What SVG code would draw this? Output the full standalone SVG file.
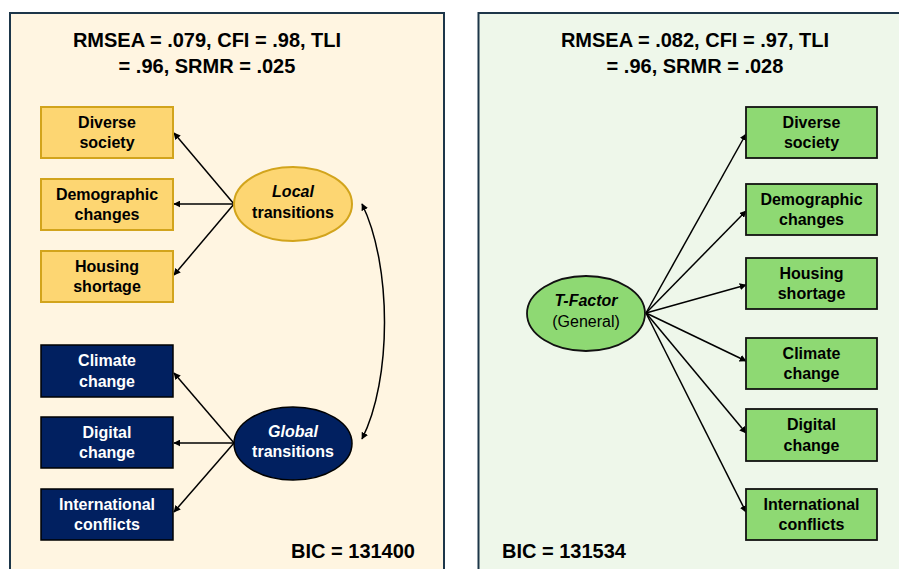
<svg xmlns="http://www.w3.org/2000/svg" width="899" height="569" viewBox="0 0 899 569">
<defs>
<marker id="ah" viewBox="0 0 10 10" refX="9" refY="5" markerWidth="7" markerHeight="7" markerUnits="userSpaceOnUse" orient="auto-start-reverse">
<path d="M0,0 L10,5 L0,10 Z" fill="#000"/>
</marker>
<style>
text{font-family:"Liberation Sans",Arial,sans-serif;font-weight:bold;text-anchor:middle;}
.fit{font-size:20px;fill:#000;}
.lbl{font-size:16px;}
.gold{fill:#fdd672;stroke:#d2a41c;stroke-width:2;}
.navy{fill:#012060;stroke:#000;stroke-width:1.5;}
.green{fill:#8ed973;stroke:#111;stroke-width:1.8;}
.dk{fill:#000;}
.wh{fill:#fff;}
.con line,.con path{stroke:#000;stroke-width:1.5;fill:none;marker-end:url(#ah);}
</style>
</defs>
<rect width="899" height="569" fill="#fff"/>
<rect id="panel-left" x="10" y="13" width="434" height="570" fill="#fff5e1" stroke="#1d3649" stroke-width="2"/>
<rect id="panel-right" x="478.5" y="13" width="440" height="570" fill="#eef7ea" stroke="#1d3649" stroke-width="2"/>

<text class="fit" x="207" y="47">RMSEA = .079, CFI = .98, TLI</text>
<text class="fit" x="207" y="73">= .96, SRMR = .025</text>
<text class="fit" x="695" y="47">RMSEA = .082, CFI = .97, TLI</text>
<text class="fit" x="695" y="73">= .96, SRMR = .028</text>
<text class="fit" x="415" y="558" style="text-anchor:end">BIC = 131400</text>
<text class="fit" x="502" y="558" style="text-anchor:start">BIC = 131534</text>

<g class="con" id="connectors">
<line x1="234" y1="204" x2="174" y2="133"/>
<line x1="234" y1="204" x2="174" y2="204"/>
<line x1="234" y1="204" x2="174" y2="275"/>
<line x1="234" y1="443" x2="174" y2="373"/>
<line x1="234" y1="443" x2="174" y2="443"/>
<line x1="234" y1="443" x2="174" y2="512"/>
<path d="M362,204 C392,265 392,380 362,439" style="marker-start:url(#ah)"/>
<line x1="646" y1="313" x2="746" y2="134"/>
<line x1="646" y1="313" x2="746" y2="211"/>
<line x1="646" y1="313" x2="746" y2="285"/>
<line x1="646" y1="313" x2="746" y2="361"/>
<line x1="646" y1="313" x2="746" y2="433"/>
<line x1="646" y1="313" x2="746" y2="512"/>
</g>

<g id="l-diverse"><rect class="gold" x="41" y="107" width="132" height="51"/><text class="lbl dk" x="107" y="128">Diverse</text><text class="lbl dk" x="107" y="148">society</text></g>
<g id="l-demo"><rect class="gold" x="41" y="179" width="132" height="51"/><text class="lbl dk" x="107" y="200">Demographic</text><text class="lbl dk" x="107" y="220">changes</text></g>
<g id="l-housing"><rect class="gold" x="41" y="251" width="132" height="51"/><text class="lbl dk" x="107" y="272">Housing</text><text class="lbl dk" x="107" y="292">shortage</text></g>
<g id="l-climate"><rect class="navy" x="41" y="345" width="132" height="52"/><text class="lbl wh" x="107" y="366">Climate</text><text class="lbl wh" x="107" y="387">change</text></g>
<g id="l-digital"><rect class="navy" x="41" y="417" width="132" height="51"/><text class="lbl wh" x="107" y="438">Digital</text><text class="lbl wh" x="107" y="458">change</text></g>
<g id="l-intl"><rect class="navy" x="41" y="489" width="132" height="51"/><text class="lbl wh" x="107" y="510">International</text><text class="lbl wh" x="107" y="530">conflicts</text></g>

<g id="local"><ellipse class="gold" cx="293" cy="204" rx="59" ry="37"/><text class="lbl dk" x="293" y="197" font-style="italic">Local</text><text class="lbl dk" x="293" y="218">transitions</text></g>
<g id="global"><ellipse class="navy" cx="293" cy="443.5" rx="59" ry="36.5"/><text class="lbl wh" x="293" y="437" font-style="italic">Global</text><text class="lbl wh" x="293" y="457">transitions</text></g>

<g id="tfactor"><ellipse class="green" cx="586" cy="313.5" rx="59" ry="37.5"/><text class="lbl dk" x="586" y="306" font-style="italic">T-Factor</text><text class="lbl dk" x="586" y="327" font-weight="normal" style="font-weight:normal">(General)</text></g>

<g id="r-diverse"><rect class="green" x="746" y="107" width="131" height="51"/><text class="lbl dk" x="811.5" y="128">Diverse</text><text class="lbl dk" x="811.5" y="148">society</text></g>
<g id="r-demo"><rect class="green" x="746" y="184" width="131" height="51"/><text class="lbl dk" x="811.5" y="205">Demographic</text><text class="lbl dk" x="811.5" y="225">changes</text></g>
<g id="r-housing"><rect class="green" x="746" y="258" width="131" height="51"/><text class="lbl dk" x="811.5" y="279">Housing</text><text class="lbl dk" x="811.5" y="299">shortage</text></g>
<g id="r-climate"><rect class="green" x="746" y="338" width="131" height="51"/><text class="lbl dk" x="811.5" y="359">Climate</text><text class="lbl dk" x="811.5" y="379">change</text></g>
<g id="r-digital"><rect class="green" x="746" y="409" width="131" height="52"/><text class="lbl dk" x="811.5" y="430">Digital</text><text class="lbl dk" x="811.5" y="451">change</text></g>
<g id="r-intl"><rect class="green" x="746" y="489" width="131" height="51"/><text class="lbl dk" x="811.5" y="510">International</text><text class="lbl dk" x="811.5" y="530">conflicts</text></g>
</svg>
